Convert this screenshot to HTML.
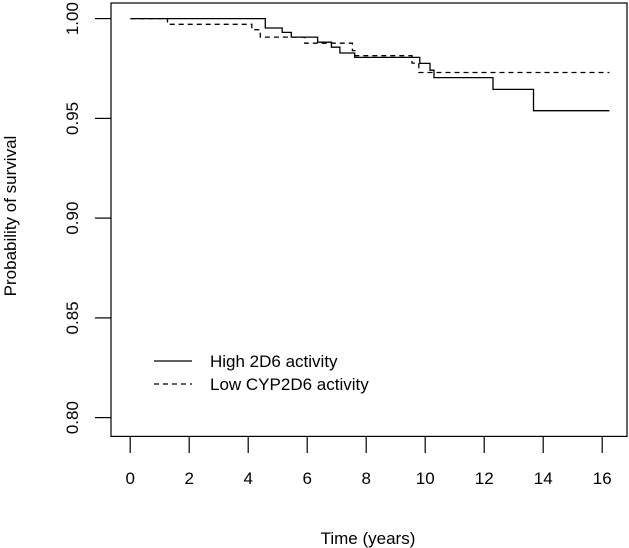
<!DOCTYPE html><html><head><style>body{margin:0;background:#fff}svg{display:block}text{font-family:"Liberation Sans",Arial,sans-serif;font-size:17px;fill:#000}</style></head><body>
<svg width="629" height="548" viewBox="0 0 629 548">
<rect x="111" y="3" width="516" height="433.4" fill="none" stroke="#000" stroke-width="1.2"/>
<g stroke="#000" stroke-width="1.2">
<line x1="130.2" y1="436" x2="130.2" y2="453"/><line x1="189.2" y1="436" x2="189.2" y2="453"/><line x1="248.2" y1="436" x2="248.2" y2="453"/><line x1="307.2" y1="436" x2="307.2" y2="453"/><line x1="366.2" y1="436" x2="366.2" y2="453"/><line x1="425.2" y1="436" x2="425.2" y2="453"/><line x1="484.2" y1="436" x2="484.2" y2="453"/><line x1="543.2" y1="436" x2="543.2" y2="453"/><line x1="602.2" y1="436" x2="602.2" y2="453"/>
<line x1="95" y1="18.6" x2="111" y2="18.6"/><line x1="95" y1="118.4" x2="111" y2="118.4"/><line x1="95" y1="218.1" x2="111" y2="218.1"/><line x1="95" y1="317.9" x2="111" y2="317.9"/><line x1="95" y1="417.6" x2="111" y2="417.6"/>
</g>
<g text-anchor="middle">
<text x="130.2" y="484">0</text><text x="189.2" y="484">2</text><text x="248.2" y="484">4</text><text x="307.2" y="484">6</text><text x="366.2" y="484">8</text><text x="425.2" y="484">10</text><text x="484.2" y="484">12</text><text x="543.2" y="484">14</text><text x="602.2" y="484">16</text>
<text transform="translate(78,18.6) rotate(-90)">1.00</text><text transform="translate(78,118.4) rotate(-90)">0.95</text><text transform="translate(78,218.1) rotate(-90)">0.90</text><text transform="translate(78,317.9) rotate(-90)">0.85</text><text transform="translate(78,417.6) rotate(-90)">0.80</text>
<text x="368" y="544">Time (years)</text>
<text transform="translate(16,216) rotate(-90)">Probability of survival</text>
</g>
<g fill="none" stroke="#000" stroke-width="1.3">
<path d="M130.4,18.6H265.3V28H282.2V32.4H291.3V37.1H317.6V42.2H331.4V47.2H339.9V53H354.7V57.4H419.8V63.4H430V70.2H434V77.6H493V89.4H533.5V110.7H609.4"/>
<path stroke-dasharray="5,4" d="M130.4,18.6H167.5V24.3H251.8V29.7H260.3V37.1H304.8V43.2H352.4V50.6H355V55.7H412V63.1H418.8V72.5H609.4"/>
<line x1="154" y1="361" x2="192" y2="361"/>
<line x1="154" y1="384" x2="192" y2="384" stroke-dasharray="5,4"/>
</g>
<text x="210" y="367">High 2D6 activity</text>
<text x="210" y="390">Low CYP2D6 activity</text>
</svg></body></html>
